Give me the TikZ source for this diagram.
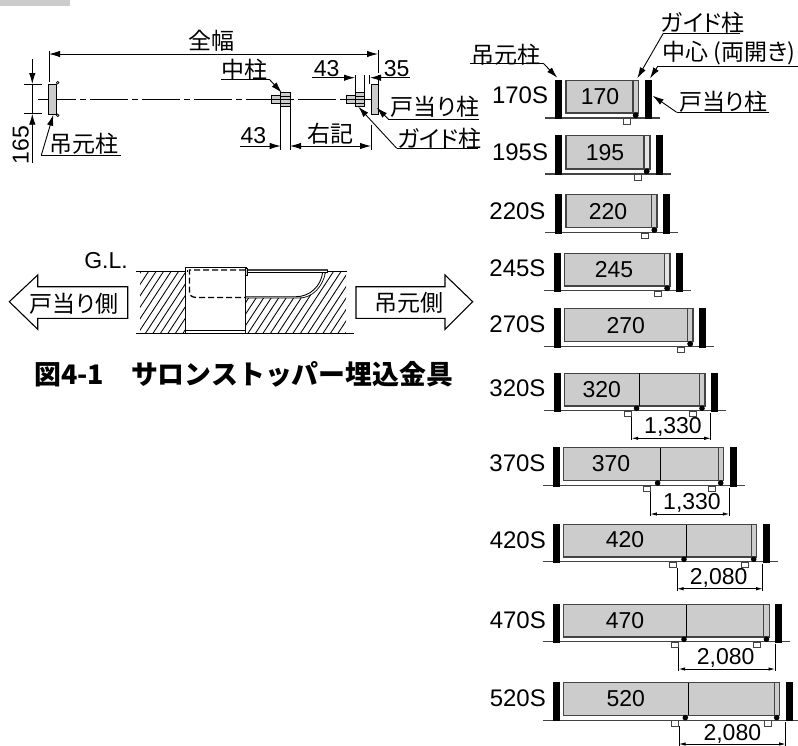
\documentclass[tikz,border=0pt]{standalone}
\usepackage{fontspec}
\usetikzlibrary{arrows.meta}
\setmainfont{Liberation Sans}
\newfontfamily\jpf[RawFeature=+palt]{Noto Sans CJK JP}
\newfontfamily\jpt{Noto Sans CJK JP}
\definecolor{gatefill}{HTML}{CCCCCC}
\definecolor{paleFill}{HTML}{E4E4E4}
\definecolor{edgegray}{HTML}{444444}
\tikzset{
  num/.style={inner sep=0pt,font=\fontsize{23}{25}\selectfont},
  rowlabel/.style={inner sep=0pt,font=\fontsize{24}{26}\selectfont},
  jp/.style={inner sep=0pt,font=\jpf\fontsize{23}{25}\selectfont},
  thin line/.style={line width=0.9pt,black},
  leader/.style={line width=0.9pt,black,-{Latex[length=11pt,width=6.5pt]}},
  dimarrow/.style={line width=0.9pt,black,-{Latex[length=11pt,width=6.5pt]}},
  smalldim/.style={line width=0.8pt,black,{Latex[length=6.5pt,width=3.4pt]}-{Latex[length=6.5pt,width=3.4pt]}},
  extline/.style={line width=0.8pt,black},
  post/.style={fill=black,draw=none},
  ground/.style={line width=1.2pt,edgegray},
  gate/.style={fill=gatefill,draw=edgegray,line width=1.2pt},
  stripe/.style={draw=edgegray,line width=1pt},
  roller/.style={fill=black,draw=none},
  sqmark/.style={fill=white,draw=edgegray,line width=0.9pt},
  part/.style={fill=gatefill,draw=black,line width=0.8pt},
  hatchline/.style={line width=0.85pt,black},
  bigarrow/.style={fill=white,draw=black,line width=1.1pt,line join=miter},
  titletext/.style={inner sep=0pt,font=\jpt\bfseries\fontsize{26.9}{28}\selectfont},
}
\newcommand{\gateframe}[8]{% left post, top, ground, rect left, rect right, rect bottom, stripe x, right post
  \draw[ground] (#4-20.7,#3) -- (#8+14.7,#3);
  \fill[post] (#1,#2) rectangle (#1+7,#3+1);
  \fill[post] (#8,#2) rectangle (#8+7,#3+1);
  \path[gate] (#4,#2+.5) rectangle (#5,#6);
  \draw[stripe] (#7,#2+.5) -- (#7,#6);
  \fill[roller] (#7+2.7,#6+2.3) circle (2.8);
}
\begin{document}
\begin{tikzpicture}[x=1pt,y=-1pt]
\useasboundingbox (0,0) rectangle (798,745);
\fill[gatefill] (0,0) rectangle (70,6);

% ---- plan view
\draw[line width=0.9pt,dash pattern=on 38pt off 4pt on 6pt off 4pt] (38,99.3) -- (371,99.3);
\path[part] (48.7,84) rectangle (56,114);
\draw[line width=0.7pt,fill=white] (57.7,82.7) circle (1.3) (57.7,115.3) circle (1.3);
\path[part] (371,84) rectangle (378.3,114);
% middle post
\path[part] (271.7,95.7) rectangle (280.7,103.3);
\path[part] (280.7,92.7) rectangle (290,106);
\draw[line width=0.6pt] (280.7,96) -- (290,96) (280.7,103) -- (290,103);
% guide post
\path[part] (346,95.7) rectangle (355,103.3);
\path[part] (355,92.7) rectangle (364,106);
\draw[line width=0.6pt] (355,96) -- (364,96) (355,103) -- (364,103);
\draw[line width=0.9pt] (271,99.3) -- (290,99.3) (346,99.3) -- (371,99.3);
% overall width
\node[jp] (zenpuku) at (211,40.7) {全幅};
\coordinate (wl) at (49,54);
\coordinate (wr) at (378,54);
\draw[dimarrow,{Latex[length=11pt,width=6.5pt]}-{Latex[length=11pt,width=6.5pt]}] (wl) -- (wr);
\draw[extline] (49,51) -- (49,81.7) (378.3,50) -- (378.3,73);
% 165
\node[num,rotate=90] (d165) at (20.7,145) {165};
\draw[extline] (24.3,84) -- (41.7,84) (24.3,113.7) -- (41.7,113.7) (32.3,84) -- (32.3,113.7);
\coordinate (a1) at (32.3,59);
\coordinate (a2) at (32.3,84);
\coordinate (a3) at (32.3,163.3);
\coordinate (a4) at (32.3,113.7);
\draw[dimarrow] (a1) -- (a2);
\draw[dimarrow] (a3) -- (a4);
% label hanging post
\node[jp] (tsurimotoA) at (84,143.3) {吊元柱};
\coordinate (ua) at (41.3,155.3);
\draw[thin line] (121,155.3) -- (ua);
\draw[leader] (ua) -- (53.3,114.7);
% label centre post
\node[jp] (nakabashira) at (244.7,69.3) {中柱};
\coordinate (ub) at (269.3,79.3);
\draw[thin line] (220.7,79.3) -- (ub);
\draw[leader] (ub) -- (281.7,92.7);
% 43 top / 35
\node[num] (d43a) at (326.7,68.3) {43};
\node[num] (d35) at (396.7,68.3) {35};
\draw[extline] (355,75) -- (355,92) (364,75) -- (364,92) (369.5,75) -- (369.5,84) (378.3,75) -- (378.3,84);
\draw[dimarrow] (312.3,77.7) -- (355,77.7);
\draw[dimarrow] (410,77.7) -- (370,77.7);
% 43 bottom / right-note
\node[num] (d43b) at (253.3,136) {43};
\node[jp] (ukki) at (330,134) {右記};
\draw[extline] (280.7,106) -- (280.7,150) (290,106) -- (290,150) (371,125) -- (371,150);
\draw[dimarrow] (240,146) -- (280.7,146);
\draw[dimarrow,{Latex[length=11pt,width=6.5pt]}-{Latex[length=11pt,width=6.5pt]}] (290,146) -- (371,146);
% door stop / guide labels
\node[jp] (toatariA) at (435,106.7) {戸当り柱};
\coordinate (uc) at (388.3,119);
\draw[thin line] (479.3,119) -- (uc);
\draw[leader] (uc) -- (376.7,107.7);
\node[jp] (guideA) at (439.3,138.3) {ガイド柱};
\coordinate (ud) at (396.7,148.3);
\draw[thin line] (478,148.3) -- (ud);
\draw[leader] (ud) -- (358.3,106.7);

% ---- section
\node[num] (gl) at (106,260.7) {G.L.};
\begin{scope}
  \clip (140,272) rectangle (185,333);
  \foreach \h in {100,107.5,...,200} \draw[hatchline] (\h,334) -- ++(42,-64);
\end{scope}
\begin{scope}
  \clip (245,298) -- (300,298) .. controls (313,298) and (323,286) .. (325,272) -- (346,272) -- (346,333) -- (245,333) -- cycle;
  \foreach \h in {210,217.5,...,350} \draw[hatchline] (\h,334) -- ++(42,-64);
\end{scope}
\draw[line width=1pt] (136,271.7) -- (185,271.7) (326.7,271.7) -- (347.3,271.7);
\draw[line width=1.1pt] (136,333.3) -- (354,333.3);
\draw[line width=1pt] (185,333.3) -- (185,267.3) -- (246.5,267.3);
\draw[line width=1pt] (245,267.3) -- (245,333.3);
\draw[line width=1pt] (185,330) -- (245,330);
\path[part] (245,268) rectangle (247.5,275.5);
\draw[line width=1.3pt,edgegray] (247.5,270) -- (327.7,270);
\draw[line width=0.7pt] (247.5,272.3) -- (327.7,272.3) -- (327.7,270);
\draw[line width=0.9pt] (245,296.7) -- (296,296.7) .. controls (310,296.7) and (321,286) .. (322.7,272.3);
\draw[line width=0.7pt] (245,298) -- (299,298) .. controls (313,298) and (323,286) .. (325.5,272.3);
\draw[line width=1.3pt,dash pattern=on 6pt off 3pt] (245,270) -- (189.5,270) -- (189.5,291) .. controls (189.5,295) and (191,297.5) .. (197,297.5) -- (245,297.5);
\draw[line width=0.6pt] (187.3,270) -- (187.3,272);

\draw[bigarrow] (9.3,301.7) -- (37.7,275) -- (37.7,286.7) -- (127.7,286.7) -- (127.7,318.3) -- (37.7,318.3) -- (37.7,329.3) -- cycle;
\node[jp] (leftside) at (74,303.3) {戸当り側};
\draw[bigarrow] (472.7,301.7) -- (445,275) -- (445,286.7) -- (356,286.7) -- (356,318.3) -- (445,318.3) -- (445,329.3) -- cycle;
\node[jp] (rightside) at (409.3,303.3) {吊元側};
\node[titletext,anchor=west] (title) at (34,374.3) {図4-1　サロンストッパー埋込金具};

% ---- top labels of the row column
\node[jp] (tsurimotoB) at (506,55) {吊元柱};
\coordinate (ue) at (543.3,63.3);
\draw[thin line] (470,63.3) -- (ue);
\draw[leader] (ue) -- (557.3,77.7);
\node[jp] (guideB) at (702.7,23) {ガイド柱};
\coordinate (uf) at (663.3,33.3);
\draw[thin line] (740,33.3) -- (uf);
\draw[leader] (uf) -- (637.3,78.3);
\node[jp] (center) at (729,53.3) {中心 (両開き)};
\coordinate (ug) at (658,66);
\draw[thin line] (798,66) -- (ug);
\draw[leader] (ug) -- (650,78.3);
\node[jp] (toatariB) at (723.3,101.7) {戸当り柱};
\coordinate (uh) at (676.7,112.3);
\draw[thin line] (769.3,112.3) -- (uh);
\draw[leader] (uh) -- (652.7,95.7);

% ---- single leaf rows
\foreach \nm/\lxx/\lyy/\ixx/\iyy/\pl/\tp/\gd/\rl/\rrr/\rb/\sx/\qx/\pr/\sf in {
 170/548.3/95/600/97/555/80/118/566/638.7/113/633/623/645/gatefill,
 195/548.3/152.7/605/153/555/135/174/566/650/169/644/634.5/656/paleFill,
 220/545.7/211.7/608/211.7/555/194/232.5/566/657/227.7/651.7/641.7/663.3/gatefill,
 245/545.7/268.3/614/269.3/554/252.7/290.5/564.5/670/286/664.5/654.5/676/paleFill,
 270/545.7/324.3/625.7/326/554/308/346.5/564.5/693/341.5/687.5/677/699/gatefill}{
  \gateframe{\pl}{\tp}{\gd}{\rl}{\rrr}{\rb}{\sx}{\pr}
  \path[gate,fill=\sf] (\sx,\tp+.5) rectangle (\rrr,\rb);
  \fill[roller] (\sx+2.7,\rb+2.3) circle (2.8);
  \path[sqmark] (\qx,\gd+.5) rectangle (\qx+7.2,\gd+6);
  \node[rowlabel,anchor=east] (row\nm) at (\lxx,\lyy) {\nm S};
  \node[num] (in\nm) at (\ixx,\iyy) {\nm};
}

% ---- two-leaf rows
\foreach \nm/\lxx/\lyy/\ixx/\iyy/\pl/\tp/\gd/\rl/\rrr/\rb/\sx/\mx/\qa/\qb/\pr/\dl/\dr/\dy/\dt/\tx/\ty in {
 320/545.7/388.3/601.7/390/554/372.7/410.7/564.7/705/406/699.3/639.3/624.3/689.3/711/631.7/710.7/438.3/{1,330}/673/426.7,
 370/545.7/463/611/463.3/553/447.3/485.7/563.7/723.7/480.7/718/660.3/643.7/708.3/730/650.3/729.3/514/{1,330}/692/502.7,
 420/546/540/625/540/553/524/561.7/563.7/756.7/557/751/686.7/669.7/741.3/763/677/762.7/588.7/{2,080}/718.7/578,
 470/546/620.7/625/621/553/604/641.7/563.7/769.3/637/763.7/686.7/671.7/753.7/775/678.7/775/669/{2,080}/725.7/658,
 520/546/698.3/625.7/699/553/682/720.3/563.7/779.7/715.3/774/688/671.7/764.3/785.7/679/785.7/744/{2,080}/732.3/734.3}{
  \gateframe{\pl}{\tp}{\gd}{\rl}{\rrr}{\rb}{\sx}{\pr}
  \draw[line width=1pt,black] (\mx,\tp+.5) -- (\mx,\rb);
  \fill[roller] (\mx-2.7,\rb+2.3) circle (2.8);
  \path[sqmark] (\qa,\gd+.5) rectangle (\qa+7.2,\gd+6);
  \path[sqmark] (\qb,\gd+.5) rectangle (\qb+7.2,\gd+6);
  \node[rowlabel,anchor=east] (row\nm) at (\lxx,\lyy) {\nm S};
  \node[num] (in\nm) at (\ixx,\iyy) {\nm};
  \draw[extline] (\dl,\gd+6) -- (\dl,\dy+2) (\dr,\gd+2) -- (\dr,\dy+2);
  \draw[smalldim] (\dl,\dy) -- (\dr,\dy);
  \node[num] (dim\nm) at (\tx,\ty) {\dt};
}
\end{tikzpicture}
\end{document}
